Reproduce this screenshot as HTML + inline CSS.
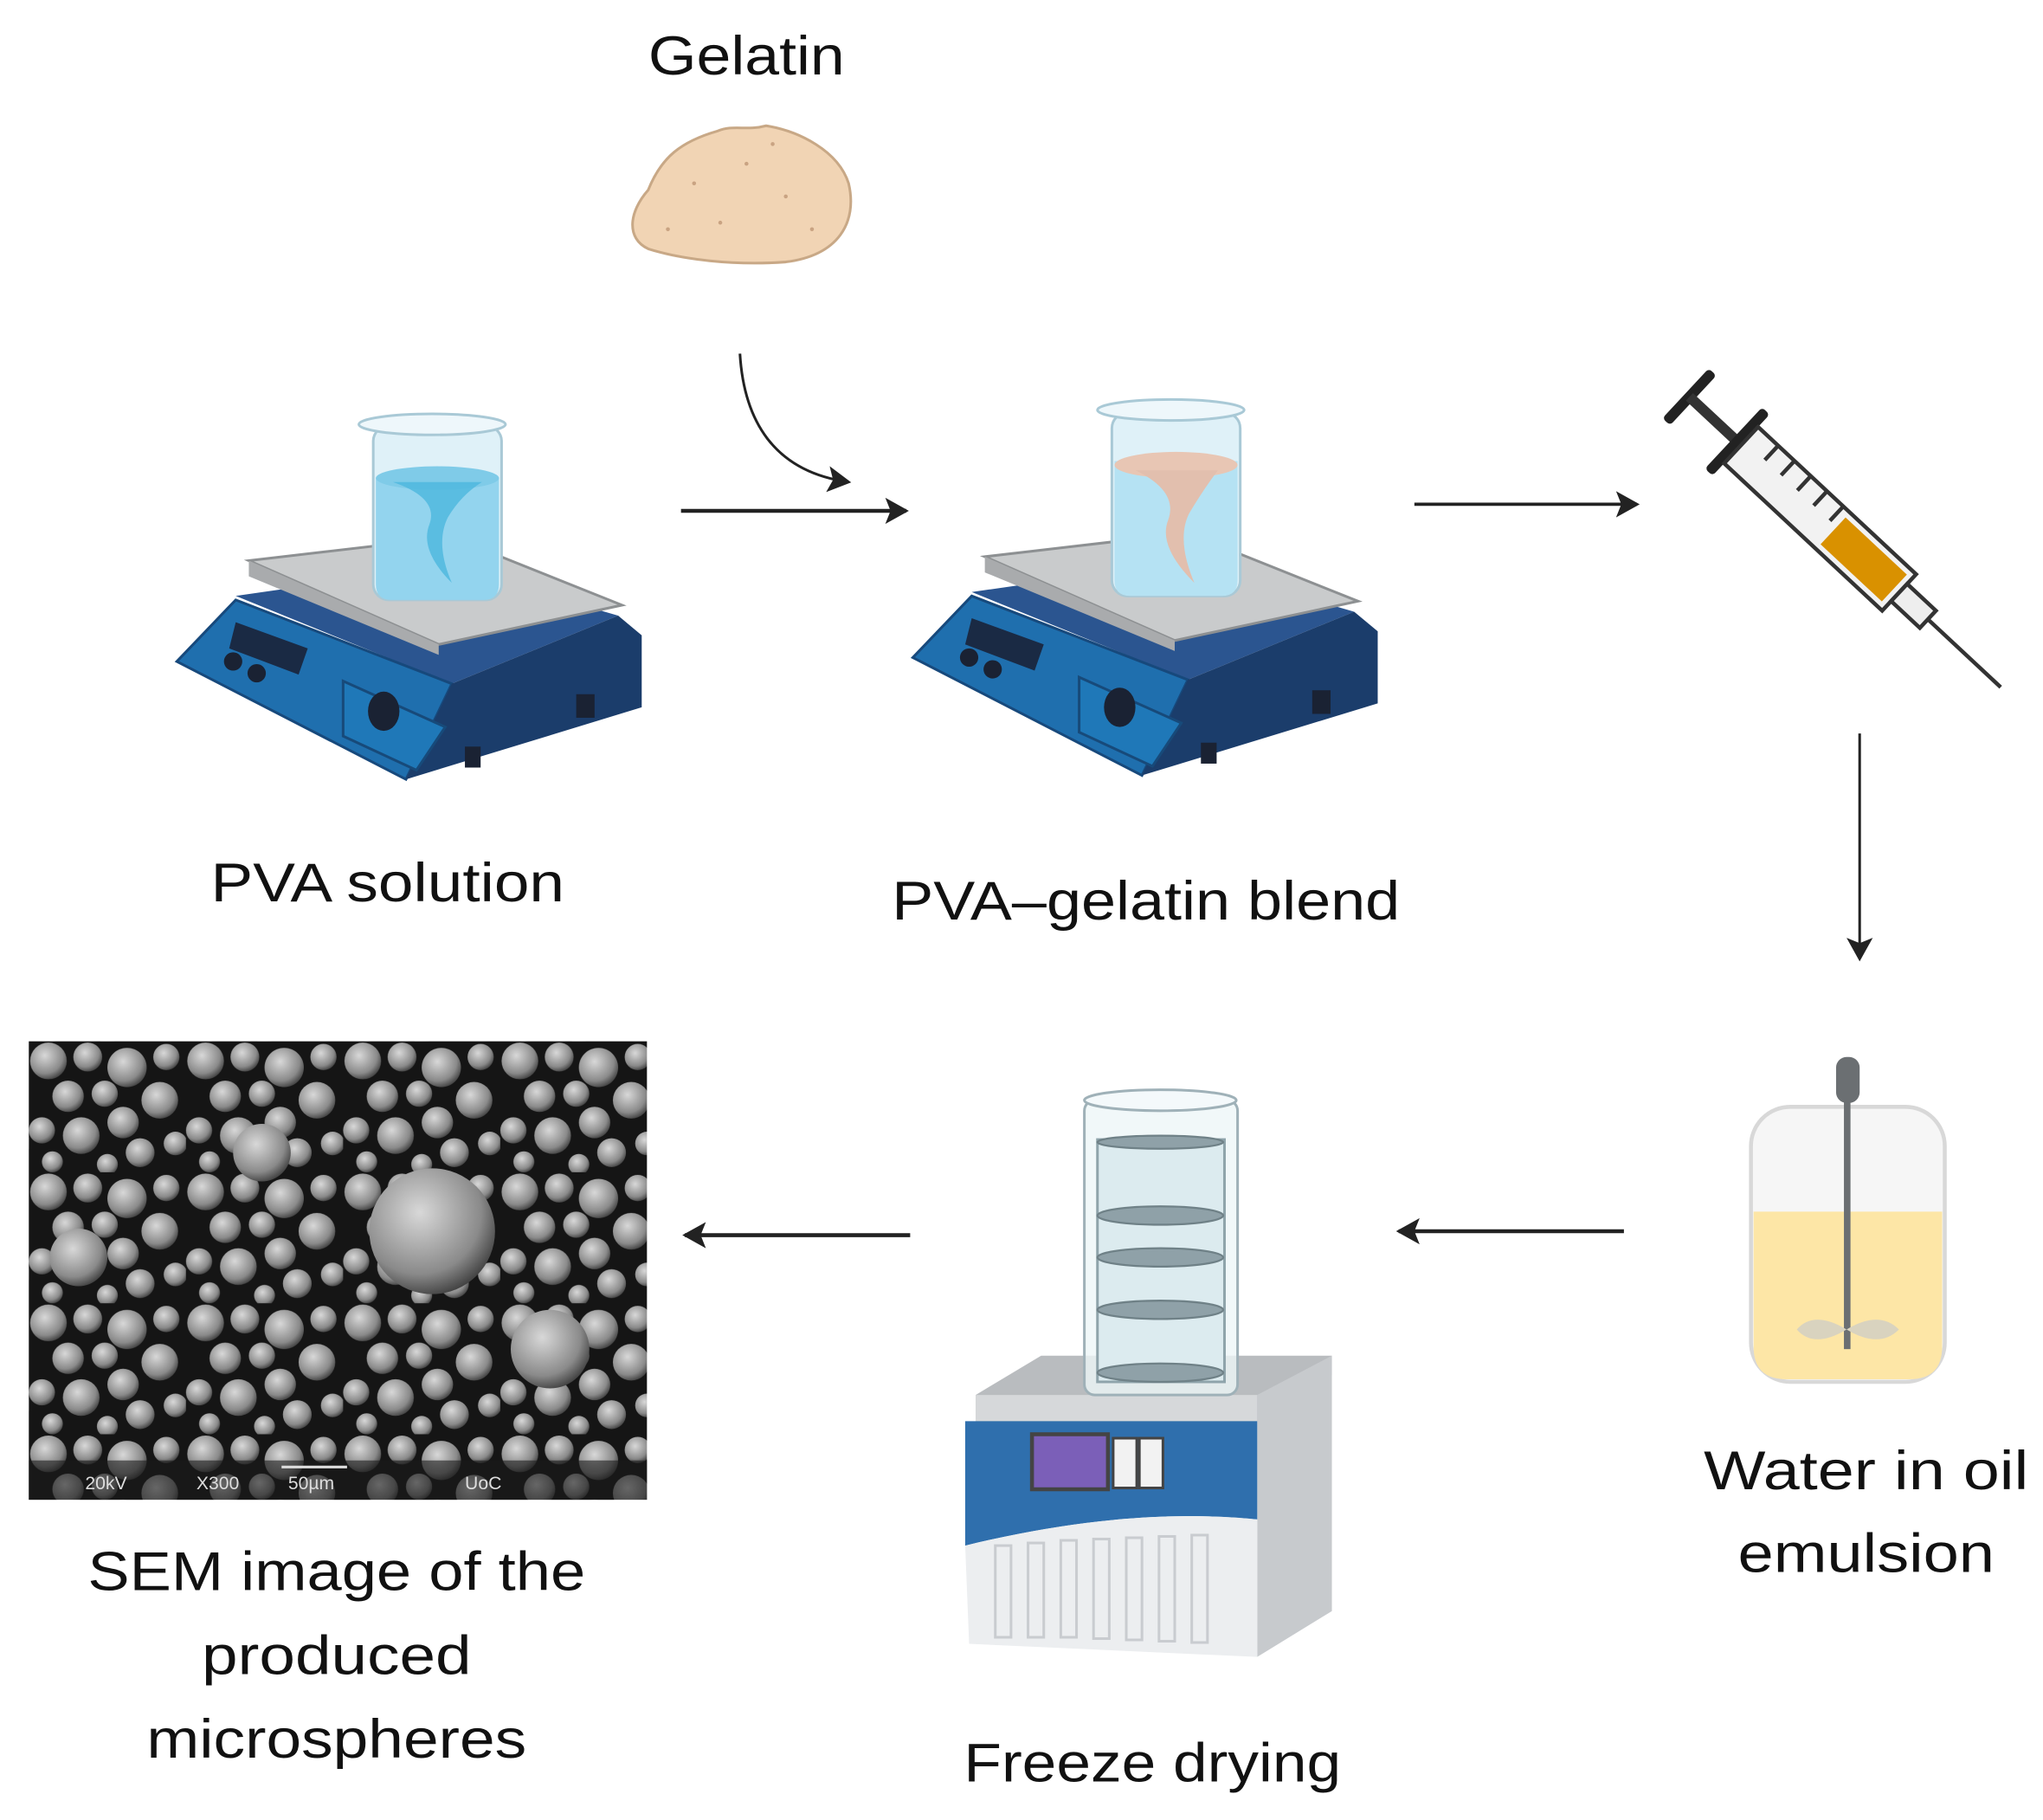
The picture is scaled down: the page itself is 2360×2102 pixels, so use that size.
<!DOCTYPE html>
<html><head><meta charset="utf-8"><style>
html,body{margin:0;padding:0;background:#fff;}
svg{display:block;}
text{font-family:"Liberation Sans",sans-serif;fill:#111;}
</style></head><body>
<svg width="2360" height="2102" viewBox="0 0 1560 1389.5" preserveAspectRatio="none" xmlns="http://www.w3.org/2000/svg">
<defs>
<radialGradient id="sp" cx="0.4" cy="0.35" r="0.7">
<stop offset="0" stop-color="#d8d8d8"/><stop offset="0.7" stop-color="#8a8a8a"/><stop offset="1" stop-color="#3a3a3a"/>
</radialGradient>
<pattern id="sem" x="22" y="795" width="120" height="100" patternUnits="userSpaceOnUse">
<rect width="120" height="100" fill="#151515"/>
<circle cx="15" cy="15" r="14" fill="url(#sp)"/>
<circle cx="45" cy="12" r="11" fill="url(#sp)"/>
<circle cx="75" cy="20" r="15" fill="url(#sp)"/>
<circle cx="105" cy="12" r="10" fill="url(#sp)"/>
<circle cx="30" cy="42" r="12" fill="url(#sp)"/>
<circle cx="58" cy="40" r="10" fill="url(#sp)"/>
<circle cx="100" cy="45" r="14" fill="url(#sp)"/>
<circle cx="10" cy="68" r="10" fill="url(#sp)"/>
<circle cx="40" cy="72" r="14" fill="url(#sp)"/>
<circle cx="72" cy="62" r="12" fill="url(#sp)"/>
<circle cx="85" cy="85" r="11" fill="url(#sp)"/>
<circle cx="112" cy="78" r="9" fill="url(#sp)"/>
<circle cx="18" cy="92" r="8" fill="url(#sp)"/>
<circle cx="60" cy="94" r="8" fill="url(#sp)"/>
</pattern>
<marker id="ahb" markerWidth="18" markerHeight="20" refX="16" refY="10" orient="auto" markerUnits="userSpaceOnUse"><path d="M0,0 L18,10 L0,20 L4,10 z" fill="#222"/></marker>
</defs>

<text x="570" y="57" font-size="42" text-anchor="middle" textLength="150" lengthAdjust="spacingAndGlyphs">Gelatin</text>
<path d="M495,145 C505,120 520,108 548,100 C560,95 570,100 585,96 C610,100 640,115 648,140 C655,170 640,195 600,200 C560,203 520,198 495,190 C478,182 480,162 495,145 z" fill="#f1d4b4" stroke="#c8a886" stroke-width="2"/>
<g fill="#c9a382"><circle cx="530" cy="140" r="1.5"/><circle cx="570" cy="125" r="1.5"/><circle cx="600" cy="150" r="1.5"/><circle cx="550" cy="170" r="1.5"/><circle cx="620" cy="175" r="1.5"/><circle cx="510" cy="175" r="1.5"/><circle cx="590" cy="110" r="1.5"/></g>

<path d="M565,270 C568,320 590,360 648,368" fill="none" stroke="#222" stroke-width="2" marker-end="url(#ahb)"/>
<line x1="520" y1="390" x2="692" y2="390" stroke="#222" stroke-width="3" marker-end="url(#ahb)"/>
<line x1="1080" y1="385" x2="1250" y2="385" stroke="#222" stroke-width="2.5" marker-end="url(#ahb)"/>
<line x1="1420" y1="560" x2="1420" y2="732" stroke="#222" stroke-width="2" marker-end="url(#ahb)"/>
<line x1="1240" y1="940" x2="1068" y2="940" stroke="#222" stroke-width="3" marker-end="url(#ahb)"/>
<line x1="695" y1="943" x2="523" y2="943" stroke="#222" stroke-width="3" marker-end="url(#ahb)"/>

<g>
<polygon points="180,455 340,432 472,470 345,522" fill="#2b5590"/>
<polygon points="180,458 345,522 310,595 135,505" fill="#1f6fae" stroke="#17497c" stroke-width="2"/>
<polygon points="345,522 472,470 490,485 490,540 310,595" fill="#1b3d6b"/>
<polygon points="262,520 340,555 318,588 262,562" fill="#1f78b8" stroke="#174a7a" stroke-width="2"/>
<polygon points="180,475 235,495 228,515 175,495" fill="#1a2a44"/>
<circle cx="178" cy="505" r="7" fill="#1a2233"/><circle cx="196" cy="514" r="7" fill="#1a2233"/>
<ellipse cx="293" cy="543" rx="12" ry="15" fill="#1a2233"/>
<rect x="440" y="530" width="14" height="18" fill="#1a2233"/><rect x="355" y="570" width="12" height="16" fill="#1a2233"/>
<polygon points="190,428 345,410 475,462 335,492" fill="#c9cbcc" stroke="#8d9092" stroke-width="2"/>
<polygon points="190,428 335,492 335,500 190,440" fill="#a9abad"/>
<rect x="285" y="325" width="98" height="133" rx="12" fill="#dff1f8" stroke="#a9c9d6" stroke-width="2"/>
<path d="M287,365 L381,365 L381,446 Q381,458 369,458 L299,458 Q287,458 287,446 z" fill="#93d4ee"/>
<ellipse cx="334" cy="365" rx="47" ry="9" fill="#7fcbe8"/>
<ellipse cx="330" cy="324" rx="56" ry="8" fill="#eef7fb" stroke="#a9c9d6" stroke-width="2"/>
<path d="M300,368 Q335,380 328,400 Q320,420 345,445 Q332,415 342,395 Q352,378 368,368" fill="#4cb6dd" opacity="0.8"/>
</g>
<g transform="translate(562,-3)">
<polygon points="180,455 340,432 472,470 345,522" fill="#2b5590"/>
<polygon points="180,458 345,522 310,595 135,505" fill="#1f6fae" stroke="#17497c" stroke-width="2"/>
<polygon points="345,522 472,470 490,485 490,540 310,595" fill="#1b3d6b"/>
<polygon points="262,520 340,555 318,588 262,562" fill="#1f78b8" stroke="#174a7a" stroke-width="2"/>
<polygon points="180,475 235,495 228,515 175,495" fill="#1a2a44"/>
<circle cx="178" cy="505" r="7" fill="#1a2233"/><circle cx="196" cy="514" r="7" fill="#1a2233"/>
<ellipse cx="293" cy="543" rx="12" ry="15" fill="#1a2233"/>
<rect x="440" y="530" width="14" height="18" fill="#1a2233"/><rect x="355" y="570" width="12" height="16" fill="#1a2233"/>
<polygon points="190,428 345,410 475,462 335,492" fill="#c9cbcc" stroke="#8d9092" stroke-width="2"/>
<polygon points="190,428 335,492 335,500 190,440" fill="#a9abad"/>
<rect x="287" y="318" width="98" height="140" rx="12" fill="#dff1f8" stroke="#a9c9d6" stroke-width="2"/>
<path d="M289,355 L383,355 L383,446 Q383,458 371,458 L301,458 Q289,458 289,446 z" fill="#b5e2f3"/>
<ellipse cx="336" cy="358" rx="47" ry="10" fill="#e8c6b4"/>
<path d="M305,362 Q338,378 330,400 Q322,420 350,448 Q336,415 346,395 Q356,378 368,362" fill="#e2bfae"/>
<ellipse cx="332" cy="316" rx="56" ry="8" fill="#eef7fb" stroke="#a9c9d6" stroke-width="2"/>
</g>

<g transform="translate(1290,303) rotate(43)">
<rect x="-4" y="-26" width="8" height="52" rx="3" fill="#222"/>
<rect x="0" y="-4" width="50" height="8" fill="#333"/>
<rect x="46" y="-32" width="8" height="64" rx="3" fill="#222"/>
<rect x="54" y="-19" width="165" height="38" fill="#f2f2f2" stroke="#333" stroke-width="3"/>
<rect x="150" y="-14" width="64" height="28" fill="#d99100"/>
<g stroke="#333" stroke-width="3"><line x1="75" y1="-19" x2="75" y2="-4"/><line x1="92" y1="-19" x2="92" y2="-4"/><line x1="109" y1="-19" x2="109" y2="-4"/><line x1="126" y1="-19" x2="126" y2="-4"/><line x1="143" y1="-19" x2="143" y2="-4"/></g>
<rect x="219" y="-9" width="30" height="18" fill="#eee" stroke="#333" stroke-width="3"/>
<line x1="249" y1="0" x2="325" y2="0" stroke="#333" stroke-width="3"/>
</g>

<rect x="1337" y="845" width="148" height="210" rx="30" fill="#f6f6f6" stroke="#d8d8d8" stroke-width="3"/>
<path d="M1339,925 L1483,925 L1483,1028 Q1483,1053 1458,1053 L1364,1053 Q1339,1053 1339,1028 z" fill="#fde6a6"/>
<rect x="1408" y="830" width="5" height="200" fill="#6b6f72"/>
<rect x="1402" y="807" width="18" height="35" rx="8" fill="#6b6f72"/>
<path d="M1372,1015 Q1385,1000 1410,1015 Q1435,1000 1450,1015 Q1435,1030 1410,1015 Q1385,1030 1372,1015 z" fill="#d9d3bf"/>

<polygon points="745,1065 795,1035 1017,1035 1017,1050 960,1085 745,1085" fill="#b9bcbf"/>
<polygon points="745,1065 960,1065 960,1085 745,1085" fill="#d6d8da"/>
<polygon points="960,1065 1017,1035 1017,1230 960,1265" fill="#c7cacd"/>
<path d="M737,1085 L960,1085 L960,1160 Q860,1150 737,1180 z" fill="#2f6fad"/>
<path d="M737,1180 Q860,1150 960,1160 L960,1265 L740,1255 z" fill="#eceef0"/>
<rect x="788" y="1095" width="58" height="42" fill="#7b5fb8" stroke="#444" stroke-width="3"/>
<rect x="850" y="1098" width="18" height="38" fill="#f2f2f2" stroke="#444" stroke-width="2"/>
<rect x="870" y="1098" width="18" height="38" fill="#f2f2f2" stroke="#444" stroke-width="2"/>
<g fill="none" stroke="#c9ccd0" stroke-width="2">
<rect x="760" y="1180" width="12" height="70"/><rect x="785" y="1178" width="12" height="72"/><rect x="810" y="1176" width="12" height="74"/><rect x="835" y="1175" width="12" height="76"/><rect x="860" y="1174" width="12" height="78"/><rect x="885" y="1173" width="12" height="80"/><rect x="910" y="1172" width="12" height="82"/>
</g>
<rect x="828" y="840" width="117" height="225" rx="8" fill="#eef6f8" fill-opacity="0.8" stroke="#9fb1b8" stroke-width="2"/>
<ellipse cx="886" cy="840" rx="58" ry="8" fill="#f4f9fb" stroke="#9fb1b8" stroke-width="2"/>
<rect x="838" y="870" width="97" height="185" fill="#dcebef" stroke="#8fa4ab" stroke-width="2"/>
<g fill="#8fa1a8" stroke="#6f8187" stroke-width="1.5">
<ellipse cx="886" cy="872" rx="48" ry="5"/><ellipse cx="886" cy="928" rx="48" ry="7"/><ellipse cx="886" cy="960" rx="48" ry="7"/><ellipse cx="886" cy="1000" rx="48" ry="7"/><ellipse cx="886" cy="1048" rx="48" ry="7"/>
</g>

<rect x="22" y="795" width="472" height="350" fill="url(#sem)"/>
<circle cx="330" cy="940" r="48" fill="url(#sp)"/>
<circle cx="420" cy="1030" r="30" fill="url(#sp)"/>
<circle cx="60" cy="960" r="22" fill="url(#sp)"/>
<circle cx="200" cy="880" r="22" fill="url(#sp)"/>
<rect x="22" y="1115" width="472" height="30" fill="#1a1a1a" fill-opacity="0.6"/>
<text x="65" y="1137" style="fill:#ddd" font-size="14">20kV</text>
<text x="150" y="1137" style="fill:#ddd" font-size="14">X300</text>
<text x="220" y="1137" style="fill:#ddd" font-size="14">50µm</text>
<text x="355" y="1137" style="fill:#ddd" font-size="14">UoC</text>
<line x1="215" y1="1120" x2="265" y2="1120" stroke="#ddd" stroke-width="2"/>

<text x="296" y="688" font-size="42" text-anchor="middle" textLength="270" lengthAdjust="spacingAndGlyphs">PVA solution</text>
<text x="875" y="702" font-size="42" text-anchor="middle" textLength="388" lengthAdjust="spacingAndGlyphs">PVA–gelatin blend</text>
<text x="1425" y="1137" font-size="42" text-anchor="middle" textLength="248" lengthAdjust="spacingAndGlyphs">Water in oil</text>
<text x="1425" y="1200" font-size="42" text-anchor="middle" textLength="196" lengthAdjust="spacingAndGlyphs">emulsion</text>
<text x="257" y="1214" font-size="42" text-anchor="middle" textLength="380" lengthAdjust="spacingAndGlyphs">SEM image of the</text>
<text x="257" y="1278" font-size="42" text-anchor="middle" textLength="206" lengthAdjust="spacingAndGlyphs">produced</text>
<text x="257" y="1342" font-size="42" text-anchor="middle" textLength="290" lengthAdjust="spacingAndGlyphs">microspheres</text>
<text x="880" y="1360" font-size="42" text-anchor="middle" textLength="288" lengthAdjust="spacingAndGlyphs">Freeze drying</text>
</svg>
</body></html>
